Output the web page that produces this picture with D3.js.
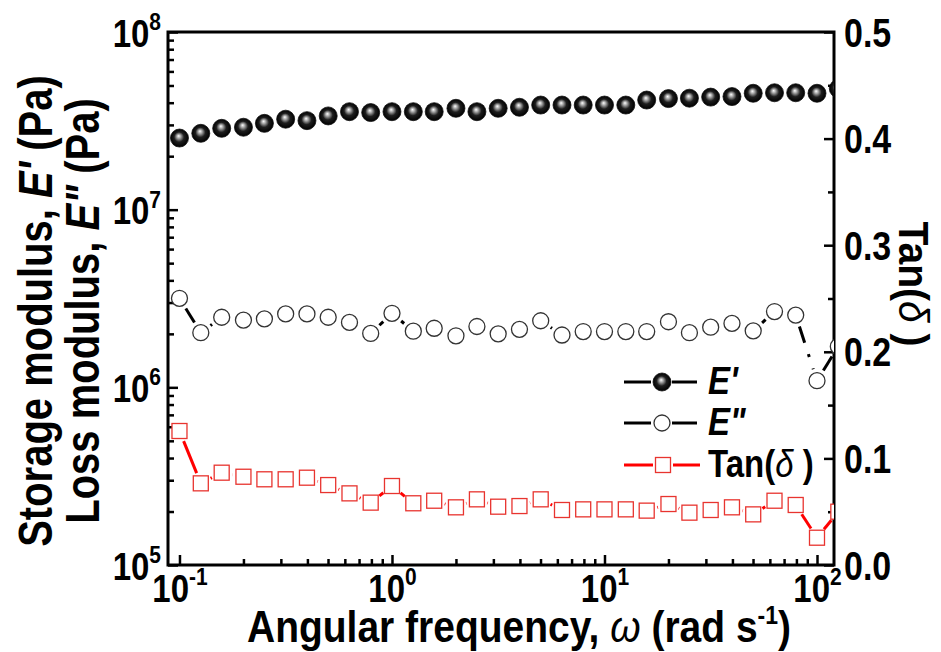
<!DOCTYPE html>
<html>
<head>
<meta charset="utf-8">
<script src="https://d3js.org/d3.v7.min.js"></script>
<style>
  body { margin: 0; background: #fff; }
  svg text { font-family: "Liberation Sans", Arial, sans-serif; font-weight: bold; fill: #000; }
</style>
</head>
<body>
<div id="chart"></div>
<script>

// angular frequency (rad/s)
var freq = [0.1, 0.126, 0.158, 0.2, 0.251, 0.316, 0.398, 0.501, 0.631, 0.794,
            1, 1.26, 1.58, 2, 2.51, 3.16, 3.98, 5.01, 6.31, 7.94,
            10, 12.6, 15.8, 20, 25.1, 31.6, 39.8, 50.1, 63.1, 79.4,
            100, 126];

// storage modulus E' (Pa)
var storageMod = [2.53e7, 2.69e7, 2.87e7, 2.91e7, 3.06e7, 3.23e7, 3.17e7, 3.37e7, 3.56e7, 3.52e7,
                  3.56e7, 3.56e7, 3.56e7, 3.72e7, 3.56e7, 3.72e7, 3.77e7, 3.88e7, 3.88e7, 3.88e7,
                  3.88e7, 3.88e7, 4.14e7, 4.22e7, 4.24e7, 4.30e7, 4.33e7, 4.52e7, 4.55e7, 4.55e7,
                  4.52e7, 4.8e7];

// loss modulus E'' (Pa)
var lossMod = [3.17e6, 2.03e6, 2.48e6, 2.39e6, 2.43e6, 2.59e6, 2.59e6, 2.48e6, 2.32e6, 2.01e6,
               2.61e6, 2.07e6, 2.15e6, 1.95e6, 2.20e6, 2.00e6, 2.12e6, 2.37e6, 1.97e6, 2.06e6,
               2.06e6, 2.06e6, 2.06e6, 2.34e6, 2.03e6, 2.18e6, 2.29e6, 2.08e6, 2.67e6, 2.55e6,
               1.09e6, 1.7e6];

// tan(delta)
var tanDelta = [0.1257, 0.0766, 0.0866, 0.0828, 0.0804, 0.0804, 0.0819, 0.0750, 0.0672, 0.0585,
                0.0741, 0.0579, 0.0603, 0.0541, 0.0616, 0.0547, 0.0553, 0.0616, 0.0516, 0.0522,
                0.0522, 0.0522, 0.0510, 0.0572, 0.0491, 0.0516, 0.0541, 0.0475, 0.0603, 0.0563,
                0.0256, 0.050];

var xTicks = [0.1, 1, 10, 100];
var xTickExp = ["-1", "0", "1", "2"];
var yTicks = [1e5, 1e6, 1e7, 1e8];
var yTickExp = ["5", "6", "7", "8"];
var tanTicks = [0, 0.1, 0.2, 0.3, 0.4, 0.5];
var tanMinor = [0.05, 0.15, 0.25, 0.35, 0.45];

var margin = {top: 32, right: 107, bottom: 87, left: 168},
    width = 941 - margin.left - margin.right,
    height = 652 - margin.top - margin.bottom;

// the original lettering is tall and narrow
var stretch = "scale(1,1.18)";

var svg = d3.select("#chart")
  .append("svg")
    .attr("width", 941)
    .attr("height", 652);

var defs = svg.append("defs");
var grad = defs.append("radialGradient")
    .attr("id", "ball")
    .attr("cx", "50%").attr("cy", "50%").attr("r", "50%")
    .attr("fx", "45%").attr("fy", "38%");
grad.append("stop").attr("offset", "0%").attr("stop-color", "#ffffff");
grad.append("stop").attr("offset", "22%").attr("stop-color", "#a8a8a8");
grad.append("stop").attr("offset", "55%").attr("stop-color", "#1e1e1e");
grad.append("stop").attr("offset", "100%").attr("stop-color", "#000000");

defs.append("clipPath").attr("id", "plotclip")
  .append("rect").attr("width", width).attr("height", height);

var g = svg.append("g")
    .attr("transform", "translate(" + margin.left + "," + margin.top + ")");

var x = d3.scaleLog()
  .domain([Math.pow(10, -1.054), Math.pow(10, 2.08)])
  .range([0, width]);
var y = d3.scaleLog()
  .domain([1e5, 1e8])
  .range([height, 0]);
var yR = d3.scaleLinear()
  .domain([0, 0.5])
  .range([height, 0]);

// minor tick positions (2..9 within each decade)
var xMinor = [], yMinor = [];
[0.1, 1, 10].forEach(function(d) { for (var k = 2; k <= 9; k++) xMinor.push(d * k); });
[1e5, 1e6, 1e7].forEach(function(d) { for (var k = 2; k <= 9; k++) yMinor.push(d * k); });

// ---- axes ----
g.append("g").attr("transform", "translate(0," + height + ")")
  .call(d3.axisBottom(x).tickValues(xMinor).tickSizeInner(-6).tickSizeOuter(0).tickFormat(""));
var xAxis = g.append("g").attr("transform", "translate(0," + height + ")")
  .call(d3.axisBottom(x).tickValues(xTicks).tickSizeInner(-10).tickSizeOuter(0));

g.append("g")
  .call(d3.axisLeft(y).tickValues(yMinor).tickSizeInner(-6).tickSizeOuter(0).tickFormat(""));
var yAxis = g.append("g")
  .call(d3.axisLeft(y).tickValues(yTicks).tickSizeInner(-10).tickSizeOuter(0));

g.append("g").attr("transform", "translate(" + width + ",0)")
  .call(d3.axisRight(yR).tickValues(tanMinor).tickSizeInner(-6).tickSizeOuter(0).tickFormat(""));
var yRAxis = g.append("g").attr("transform", "translate(" + width + ",0)")
  .call(d3.axisRight(yR).tickValues(tanTicks).tickSizeInner(-10).tickSizeOuter(0).tickPadding(10)
        .tickFormat(d3.format(".1f")));

g.selectAll(".domain").remove();
g.selectAll(".tick line").attr("stroke", "#000").attr("stroke-width", 2.5);

// power-of-ten labels
xAxis.selectAll(".tick text").each(function(d, i) {
  var t = d3.select(this).text(null)
    .attr("font-size", 33).attr("dy", null).attr("y", 0).attr("font-family", null)
    .attr("transform", "translate(0,37) " + stretch);
  t.append("tspan").text("10");
  t.append("tspan").attr("font-size", 21).attr("dy", -14).text(xTickExp[i]);
});
yAxis.selectAll(".tick text").each(function(d, i) {
  var t = d3.select(this).text(null)
    .attr("font-size", 33).attr("dy", null).attr("x", -7).attr("font-family", null)
    .attr("transform", "translate(0,14) " + stretch);
  t.append("tspan").text("10");
  t.append("tspan").attr("font-size", 21).attr("dy", -14).text(yTickExp[i]);
});
yRAxis.selectAll(".tick text")
  .attr("font-size", 34).attr("dy", null).attr("font-family", null)
  .attr("transform", "translate(0,14) " + stretch);

// frame
g.append("rect")
  .attr("width", width).attr("height", height)
  .attr("fill", "none").attr("stroke", "#000").attr("stroke-width", 3);

// ---- data ----
var plot = g.append("g").attr("clip-path", "url(#plotclip)");

// connecting segments that stop short of each symbol
function gapSegments(vals, ys, gap) {
  return d3.pairs(d3.range(vals.length)).map(function(p) {
    var x0 = x(freq[p[0]]), y0 = ys(vals[p[0]]),
        x1 = x(freq[p[1]]), y1 = ys(vals[p[1]]);
    var L = Math.hypot(x1 - x0, y1 - y0);
    if (L <= 2 * gap) return null;
    var ux = (x1 - x0) / L, uy = (y1 - y0) / L;
    return [[x0 + ux * gap, y0 + uy * gap], [x1 - ux * gap, y1 - uy * gap]];
  }).filter(function(s) { return s; });
}
var seg = d3.line();

plot.selectAll(".segE1").data(gapSegments(storageMod, y, 12)).enter().append("path")
  .attr("d", seg).attr("fill", "none").attr("stroke", "#000")
  .attr("stroke-width", 3).attr("stroke-dasharray", "17,12,3,12");
plot.selectAll(".segE2").data(gapSegments(lossMod, y, 12)).enter().append("path")
  .attr("d", seg).attr("fill", "none").attr("stroke", "#000")
  .attr("stroke-width", 3).attr("stroke-dasharray", "17,12,3,12");
plot.selectAll(".segTan").data(gapSegments(tanDelta, yR, 11)).enter().append("path")
  .attr("d", seg).attr("fill", "none").attr("stroke", "#f00")
  .attr("stroke-width", 3);

plot.selectAll(".sq").data(tanDelta).enter().append("rect")
  .attr("x", function(d, i) { return x(freq[i]) - 7.5; })
  .attr("y", function(d) { return yR(d) - 7.5; })
  .attr("width", 15).attr("height", 15)
  .attr("fill", "#fff").attr("stroke", "#e8342f").attr("stroke-width", 1.3);

plot.selectAll(".open").data(lossMod).enter().append("circle")
  .attr("cx", function(d, i) { return x(freq[i]); })
  .attr("cy", function(d) { return y(d); })
  .attr("r", 8)
  .attr("fill", "#fff").attr("stroke", "#333").attr("stroke-width", 1.3);

plot.selectAll(".ball").data(storageMod).enter().append("circle")
  .attr("cx", function(d, i) { return x(freq[i]); })
  .attr("cy", function(d) { return y(d); })
  .attr("r", 9)
  .attr("fill", "url(#ball)").attr("stroke", "#111").attr("stroke-width", 0.8);

// ---- legend ----
var legend = svg.append("g").attr("transform", "translate(624,382)");
var rows = [
  {color: "#000", y: 0, a: 27, b: 48, c: 73},
  {color: "#000", y: 41, a: 27, b: 48, c: 73},
  {color: "#f00", y: 83, a: 29, b: 49, c: 76}
];
rows.forEach(function(r) {
  legend.append("line").attr("x1", 0).attr("x2", r.a).attr("y1", r.y).attr("y2", r.y)
    .attr("stroke", r.color).attr("stroke-width", 3);
  legend.append("line").attr("x1", r.b).attr("x2", r.c).attr("y1", r.y).attr("y2", r.y)
    .attr("stroke", r.color).attr("stroke-width", 3);
});
legend.append("circle").attr("cx", 38).attr("cy", 0).attr("r", 9)
  .attr("fill", "url(#ball)").attr("stroke", "#111").attr("stroke-width", 0.8);
legend.append("circle").attr("cx", 38).attr("cy", 41).attr("r", 8)
  .attr("fill", "#fff").attr("stroke", "#333").attr("stroke-width", 1.3);
legend.append("rect").attr("x", 31.5).attr("y", 83 - 7.5).attr("width", 15).attr("height", 15)
  .attr("fill", "#fff").attr("stroke", "#e8342f").attr("stroke-width", 1.3);

legend.append("text").attr("transform", "translate(84,12) " + stretch).attr("font-size", 33)
  .attr("font-style", "italic").text("E'");
legend.append("text").attr("transform", "translate(84,53) " + stretch).attr("font-size", 33)
  .attr("font-style", "italic").text("E\"");
var tl = legend.append("text").attr("transform", "translate(84,95) " + stretch).attr("font-size", 33);
tl.append("tspan").text("Tan(");
tl.append("tspan").attr("font-style", "italic").attr("font-weight", "normal").text("\u03B4");
tl.append("tspan").text(" )");

// ---- axis titles ----
var xt = svg.append("text").attr("transform", "translate(519,642) scale(1,1.12)")
  .attr("text-anchor", "middle").attr("font-size", 39);
xt.append("tspan").text("Angular frequency, ");
xt.append("tspan").attr("font-style", "italic").attr("font-weight", "normal").text("\u03C9");
xt.append("tspan").text(" (rad s");
xt.append("tspan").attr("font-size", 23).attr("dy", -16).text("-1");
xt.append("tspan").attr("dy", 16).text(")");

var t1 = svg.append("text").attr("transform", "translate(52,311) rotate(-90) " + stretch)
  .attr("text-anchor", "middle").attr("font-size", 40);
t1.append("tspan").text("Storage modulus, ");
t1.append("tspan").attr("font-style", "italic").text("E'");
t1.append("tspan").text(" (Pa)");

var t2 = svg.append("text").attr("transform", "translate(99,311) rotate(-90) " + stretch)
  .attr("text-anchor", "middle").attr("font-size", 40);
t2.append("tspan").text("Loss modulus, ");
t2.append("tspan").attr("font-style", "italic").text("E\"");
t2.append("tspan").text(" (Pa)");

var t3 = svg.append("text").attr("transform", "translate(899,284) rotate(90) scale(1,1.1)")
  .attr("text-anchor", "middle").attr("font-size", 39);
t3.append("tspan").text("Tan(");
t3.append("tspan").attr("font-style", "italic").attr("font-weight", "normal").text("\u03B4");
t3.append("tspan").text(" )");

</script>
</body>
</html>
